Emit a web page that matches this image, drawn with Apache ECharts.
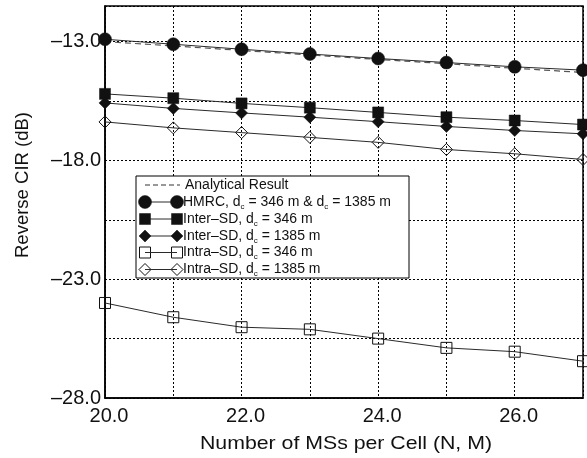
<!DOCTYPE html>
<html>
<head>
<meta charset="utf-8">
<script src="https://cdn.jsdelivr.net/npm/echarts@6/dist/echarts.min.js"></script>
<style>
  html, body { margin: 0; padding: 0; background: #fff; }
  #chart { width: 587px; height: 458px; }
</style>
</head>
<body>
<div id="chart"></div>
<script>
// Number of MSs per cell (N, M)
const nValues = [20, 21, 22, 23, 24, 25, 26, 27];

// Reverse CIR in dB for each scheme
const analytical  = [-13.00, -13.18, -13.37, -13.56, -13.75, -13.93, -14.12, -14.30];
const hmrc        = [-12.90, -13.11, -13.32, -13.52, -13.71, -13.88, -14.06, -14.20];
const interSd346  = [-15.20, -15.38, -15.60, -15.78, -15.98, -16.18, -16.32, -16.49];
const interSd1385 = [-15.58, -15.81, -16.00, -16.18, -16.37, -16.57, -16.74, -16.88];
const intraSd346  = [-24.00, -24.60, -25.02, -25.11, -25.50, -25.89, -26.05, -26.45];
const intraSd1385 = [-16.38, -16.63, -16.83, -17.03, -17.24, -17.54, -17.72, -17.96];

// Axis ranges and labelled ticks
const xRange = [20, 27];
const xLabelled = [20, 22, 24, 26];
const yRange = [-28, -11.5];
const yLabelled = [-28, -23, -18, -13];

const FONT = '"Liberation Sans", Arial, Helvetica, sans-serif';
const INK = '#111';
const LINE = '#2a2a2a';

const pairs = ys => nValues.map((n, i) => [n, ys[i]]);
const near = (v, list) => list.some(t => Math.abs(t - v) < 1e-6);
// negative tick values are written with a dash, e.g. "–13.0"
const fmtY = v => (v < 0 ? '\u2013' : '') + Math.abs(v).toFixed(1);

function lineSeries(name, ys, symbol, size, filled) {
  return {
    name: name,
    type: 'line',
    data: pairs(ys),
    symbol: symbol,
    symbolSize: size,
    showAllSymbol: true,
    z: 5,
    lineStyle: { color: LINE, width: 1 },
    itemStyle: filled
      ? { color: INK, borderColor: INK, borderWidth: 0.5 }
      : { color: 'rgba(0,0,0,0)', borderColor: INK, borderWidth: 1 },
    emphasis: { disabled: true },
    animation: false
  };
}

const series = [
  {
    name: 'Analytical Result',
    type: 'line',
    data: pairs(analytical),
    symbol: 'none',
    z: 4,
    lineStyle: { color: '#555', width: 1.2, type: [6, 4] },
    emphasis: { disabled: true },
    animation: false
  },
  lineSeries('HMRC', hmrc, 'circle', 13, true),
  lineSeries('Inter-SD 346', interSd346, 'rect', 11, true),
  lineSeries('Inter-SD 1385', interSd1385, 'diamond', [12, 12], true),
  lineSeries('Intra-SD 346', intraSd346, 'rect', 11, false),
  lineSeries('Intra-SD 1385', intraSd1385, 'diamond', [12, 12], false)
];

// Legend panel drawn as a framed box with marker-line-marker glyphs
const LG = { x: 136, y: 176, w: 273, h: 102, x1: 145, x2: 177, tx: 183 };
const rowY = [185, 202, 219, 236, 252.5, 269.5];
const legendRows = [
  { glyph: 'dash', text: '{n|Analytical Result}' },
  { glyph: 'circle', filled: true, text: '{n|HMRC, d}{s|c}{n| = 346 m & d}{s|c}{n| = 1385 m}' },
  { glyph: 'rect', filled: true, text: '{n|Inter\u2013SD, d}{s|c}{n| = 346 m}' },
  { glyph: 'diamond', filled: true, text: '{n|Inter\u2013SD, d}{s|c}{n| = 1385 m}' },
  { glyph: 'rect', filled: false, text: '{n|Intra\u2013SD, d}{s|c}{n| = 346 m}' },
  { glyph: 'diamond', filled: false, text: '{n|Intra\u2013SD, d}{s|c}{n| = 1385 m}' }
];

function marker(kind, filled, cx, cy) {
  const style = filled
    ? { fill: INK, stroke: INK, lineWidth: 0.5 }
    : { fill: '#fff', stroke: INK, lineWidth: 1 };
  if (kind === 'circle') {
    return { type: 'circle', shape: { cx: cx, cy: cy, r: 6.5 }, style: style, z: 102 };
  }
  if (kind === 'rect') {
    return { type: 'rect', shape: { x: cx - 5.5, y: cy - 5.5, width: 11, height: 11 }, style: style, z: 102 };
  }
  return {
    type: 'polygon',
    shape: { points: [[cx, cy - 6], [cx + 6, cy], [cx, cy + 6], [cx - 6, cy]] },
    style: style, z: 102
  };
}

const legendGraphics = [
  { type: 'rect', shape: { x: LG.x, y: LG.y, width: LG.w, height: LG.h },
    style: { fill: '#fff', stroke: '#000', lineWidth: 1 }, z: 100 }
];
legendRows.forEach((row, i) => {
  const cy = rowY[i];
  if (row.glyph === 'dash') {
    legendGraphics.push({ type: 'line', shape: { x1: LG.x1, y1: cy, x2: LG.x2 + 3, y2: cy },
      style: { stroke: '#333', lineWidth: 1, lineDash: [5, 3] }, z: 101 });
  } else {
    legendGraphics.push({ type: 'line', shape: { x1: LG.x1, y1: cy, x2: LG.x2, y2: cy },
      style: { stroke: LINE, lineWidth: 1 }, z: 101 });
    legendGraphics.push(marker(row.glyph, row.filled, LG.x1, cy));
    legendGraphics.push(marker(row.glyph, row.filled, LG.x2, cy));
    if (!row.filled) {
      legendGraphics.push({ type: 'line', shape: { x1: LG.x1, y1: cy, x2: LG.x2, y2: cy },
        style: { stroke: LINE, lineWidth: 1 }, z: 103 });
    }
  }
  legendGraphics.push({
    type: 'text', x: row.glyph === 'dash' ? LG.tx + 2 : LG.tx, y: cy, z: 104,
    style: {
      text: row.text,
      verticalAlign: 'middle',
      fill: INK,
      rich: {
        n: { fontFamily: FONT, fontSize: 14, fill: INK, lineHeight: 16 },
        s: { fontFamily: FONT, fontSize: 8, fill: INK, lineHeight: 16, padding: [9, 0, 0, 0] }
      }
    }
  });
});

const option = {
  backgroundColor: '#fff',
  animation: false,
  grid: {
    left: 105, right: 4, top: 6, bottom: 60,
    show: true, borderColor: '#000', borderWidth: 1.5, backgroundColor: 'transparent'
  },
  xAxis: {
    type: 'value', min: xRange[0], max: xRange[1], interval: 1,
    axisLine: { show: true, lineStyle: { color: '#000', width: 1.5 } },
    axisTick: { show: false },
    axisLabel: {
      color: INK, fontFamily: FONT, fontSize: 20, margin: 8, padding: [0, 0, 0, 8],
      formatter: v => near(v, xLabelled) ? v.toFixed(1) : ''
    },
    splitLine: { show: true, lineStyle: { color: '#000', width: 1, type: [2, 2] } }
  },
  yAxis: {
    type: 'value', min: yRange[0], max: yRange[1], interval: 2.5,
    axisLine: { show: true, lineStyle: { color: '#000', width: 1.5 } },
    axisTick: { show: false },
    axisLabel: {
      color: INK, fontFamily: FONT, fontSize: 20, margin: 4,
      formatter: v => near(v, yLabelled) ? fmtY(v) : ''
    },
    splitLine: { show: true, lineStyle: { color: '#000', width: 1, type: [2, 2] } }
  },
  series: series,
  graphic: [
    {
      type: 'text', x: 23, y: 185, rotation: Math.PI / 2, z: 50,
      style: { text: 'Reverse CIR (dB)', fontFamily: FONT, fontSize: 18.5, fill: INK,
               align: 'center', verticalAlign: 'middle' }
    },
    {
      type: 'text', x: 346, y: 444, scaleX: 1.15, z: 50,
      style: { text: 'Number of MSs per Cell (N, M)', fontFamily: FONT, fontSize: 18.5, fill: INK,
               align: 'center', verticalAlign: 'middle' }
    }
  ].concat(legendGraphics)
};

const chart = echarts.init(document.getElementById('chart'), null, { renderer: 'canvas' });
chart.setOption(option);
</script>
</body>
</html>
